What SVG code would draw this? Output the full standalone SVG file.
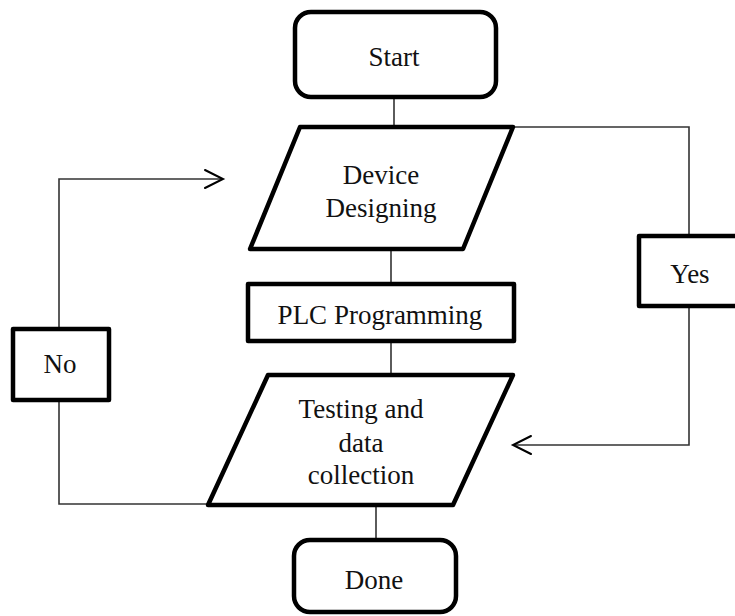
<svg xmlns="http://www.w3.org/2000/svg" width="735" height="616" viewBox="0 0 735 616">
<style>
.shape{fill:#fff;stroke:#000;stroke-width:4.5;stroke-linejoin:round}
.line{fill:none;stroke:#333;stroke-width:1.6}
.arrow{fill:none;stroke:#000;stroke-width:2;stroke-linecap:round;stroke-linejoin:miter}
text{font-family:"Liberation Serif","Times New Roman",serif;font-size:27px;fill:#111;text-anchor:middle}
</style>
<rect width="735" height="616" fill="#fff"/>
<g id="connectors">
<line class="line" x1="394" y1="97" x2="394" y2="127"/>
<line class="line" x1="391" y1="249" x2="391" y2="283"/>
<line class="line" x1="391" y1="342" x2="391" y2="374"/>
<line class="line" x1="376" y1="505" x2="376" y2="539"/>
<polyline class="line" points="513,127 689,127 689,235"/>
<polyline class="line" points="689,307 689,445 513,445"/>
<polyline class="arrow" points="531,436 513,445 531,454"/>
<polyline class="line" points="208,504 59,504 59,400"/>
<polyline class="line" points="59,328 59,179 222,179"/>
<polyline class="arrow" points="205,170 223,179 205,188"/>
</g>
<g id="start">
<rect class="shape" x="295" y="12" width="201" height="85" rx="16"/>
<text x="394" y="66">Start</text>
</g>
<g id="device">
<polygon class="shape" points="300,127 513,127 463,249 250,249"/>
<text x="381" y="184">Device</text>
<text x="381" y="217">Designing</text>
</g>
<g id="plc">
<rect class="shape" x="248" y="284" width="266" height="57"/>
<text x="380" y="324">PLC Programming</text>
</g>
<g id="testing">
<polygon class="shape" points="268,375 513,375 453,505 208,505"/>
<text x="361" y="418">Testing and</text>
<text x="361" y="452">data</text>
<text x="361" y="484">collection</text>
</g>
<g id="done">
<rect class="shape" x="294" y="540" width="162" height="72" rx="16"/>
<text x="374" y="589">Done</text>
</g>
<g id="no">
<rect class="shape" x="13" y="329" width="96" height="71"/>
<text x="60" y="373">No</text>
</g>
<g id="yes">
<rect class="shape" x="639" y="236" width="100" height="70"/>
<text x="690" y="283">Yes</text>
</g>
</svg>
